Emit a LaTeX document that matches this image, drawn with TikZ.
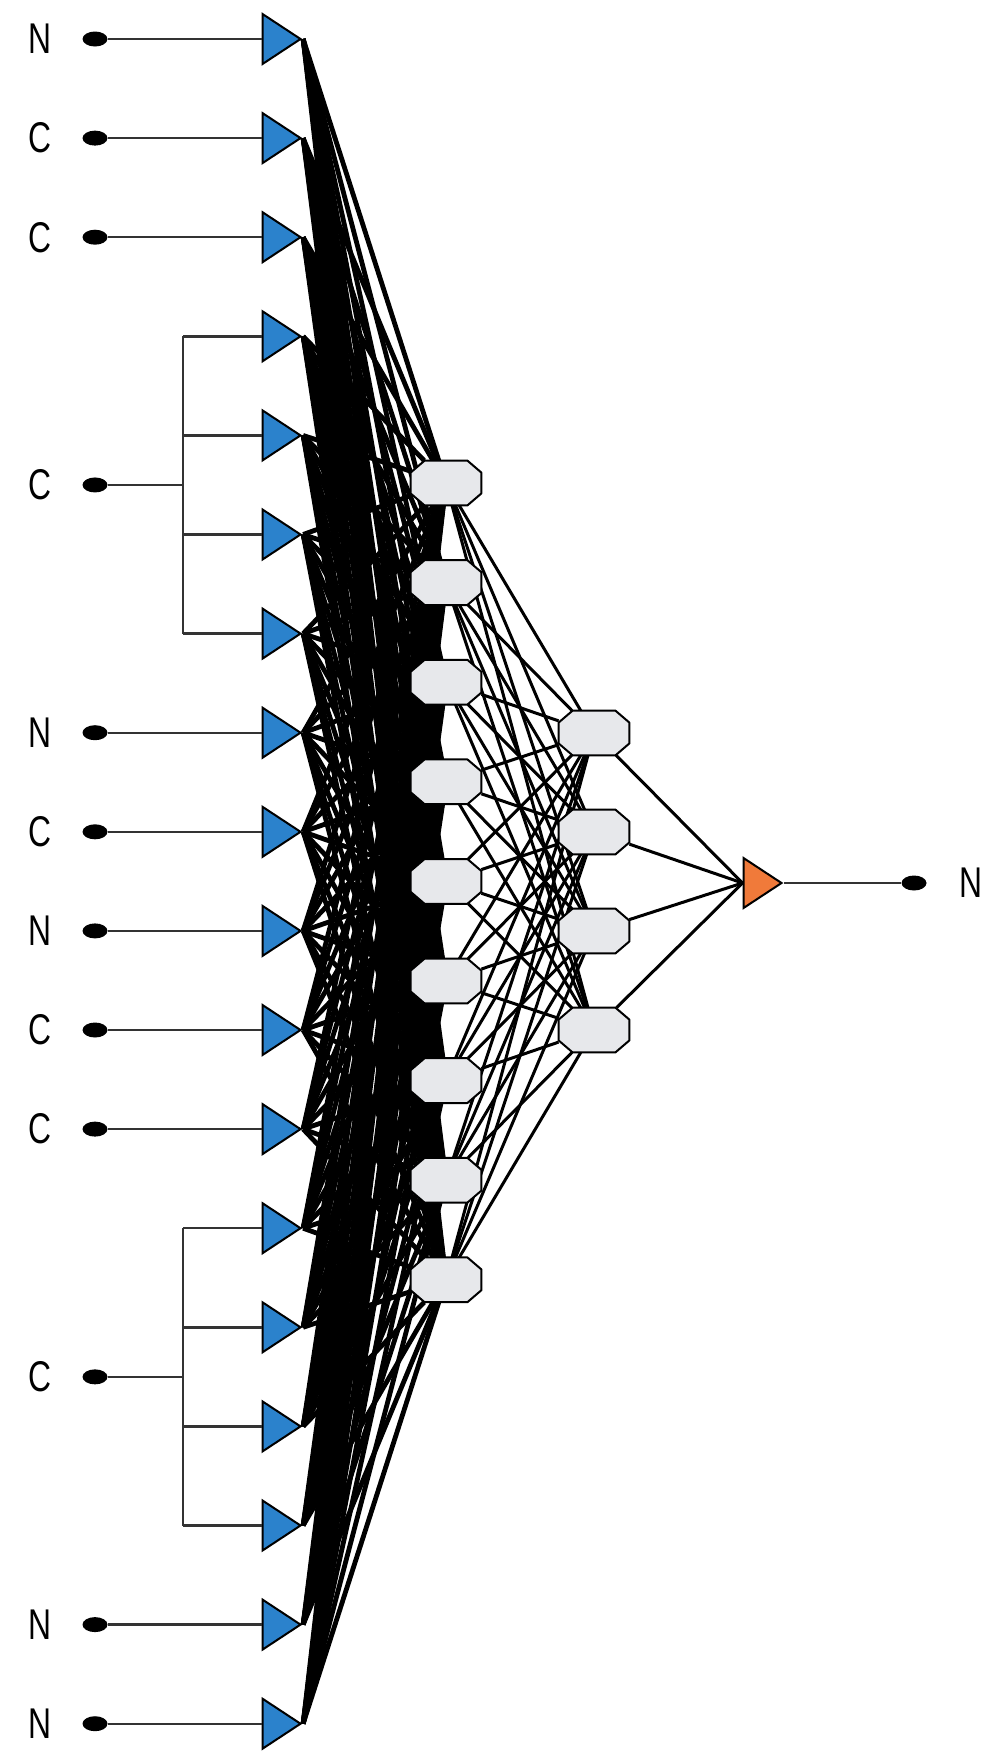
\documentclass[tikz,border=0pt]{standalone}
\usepackage{fontspec}
\setmainfont{Liberation Sans}[FakeStretch=0.74]
\usepackage{xcolor}
\definecolor{inblue}{HTML}{2B82CC}
\definecolor{outorange}{HTML}{F07A3A}
\definecolor{hidgrey}{HTML}{E7E8EB}
\usepackage{tikz}
\usetikzlibrary{shapes.geometric}
\usetikzlibrary{backgrounds}
\usetikzlibrary{positioning}
\tikzstyle{input} = [isosceles triangle, isosceles triangle stretches, draw=black,
    line width=1pt, fill=inblue, minimum width=25pt, minimum height=19pt, inner sep=0pt]
\tikzstyle{output} = [input, fill=outorange]
\tikzstyle{hidden} = [rectangle, minimum width=35pt, minimum height=22pt, inner sep=0pt]
\tikzstyle{octo} = [draw=black, line width=1pt, fill=hidgrey, line join=round]
\tikzstyle{dot} = [ellipse, fill=black, minimum width=12.5pt, minimum height=7.5pt, inner sep=0pt]
\tikzstyle{varname} = [inner sep=0pt, font=\fontsize{21.5}{24}\selectfont]
\tikzstyle{line} = [draw=black!80, line width=1.2pt]
\tikzstyle{fan} = [draw=black, line width=2.4pt]
\tikzstyle{link} = [draw=black, line width=1.5pt]
% octagon drawn over a hidden node
\newcommand{\octnode}[1]{%
    \path [octo] ([xshift=7pt]#1.north west) -- ([xshift=-7pt]#1.north east)
        -- ([yshift=-6pt]#1.north east) -- ([yshift=6pt]#1.south east)
        -- ([xshift=-7pt]#1.south east) -- ([xshift=7pt]#1.south west)
        -- ([yshift=6pt]#1.south west) -- ([yshift=-6pt]#1.north west) -- cycle;}

\begin{document}
\begin{tikzpicture}[x=0.5pt,y=-0.5pt]
    \useasboundingbox (0,0) rectangle (997,1763);
    % Place nodes
    \foreach \k in {1,...,18}
        \node [input] (in\k) at (276,{39+99.1*(\k-1)}) {};
    \foreach \j in {1,...,9}
        \node [hidden] (h\j) at (446,{483+99.6*(\j-1)}) {};
    \foreach \j in {1,...,4}
        \node [hidden] (g\j) at (594,{733+99*(\j-1)}) {};
    \node [output] (out) at (757,883) {};
    \node [dot] (dout) at (914,883) {};
    \node [varname, right=16pt of dout] (lout) {N};
    \foreach \j in {1,...,9} {\octnode{h\j}}
    \foreach \j in {1,...,4} {\octnode{g\j}}

    % single inputs
    \foreach \k/\t in {1/N,2/C,3/C,8/N,9/C,10/N,11/C,12/C,17/N,18/N} {
        \node [dot] (d\k) at (95,{39+99.1*(\k-1)}) {};
        \node [varname, left=15pt of d\k] (l\k) {\t};
        \path [line] (d\k) -- (in\k.west);
    }

    % grouped inputs
    \node [dot] (dA) at (95,{39+99.1*4.5}) {};
    \node [varname, left=15pt of dA] (lA) {C};
    \coordinate (jA) at (183,{39+99.1*4.5});
    \node [dot] (dB) at (95,{39+99.1*13.5}) {};
    \node [varname, left=15pt of dB] (lB) {C};
    \coordinate (jB) at (183,{39+99.1*13.5});
    \path [line] (dA) -- (jA);
    \path [line] (jA |- in4) -- (jA |- in7);
    \foreach \k in {4,...,7}
        \path [line] (jA |- in\k) -- (in\k.west);
    \path [line] (dB) -- (jB);
    \path [line] (jB |- in13) -- (jB |- in16);
    \foreach \k in {13,...,16}
        \path [line] (jB |- in\k) -- (in\k.west);

    % Draw edges
    \begin{scope}[on background layer]
        \foreach \k in {1,...,18}
            \foreach \j in {1,...,9}
                \path [fan] (in\k.apex) -- (h\j);
        \foreach \i in {1,...,9}
            \foreach \j in {1,...,4}
                \path [link] (h\i) -- (g\j);
        \foreach \j in {1,...,4}
            \path [link] (g\j) -- (out.west);
    \end{scope}
    \path [line] (out.apex) -- (dout);
\end{tikzpicture}
\end{document}
